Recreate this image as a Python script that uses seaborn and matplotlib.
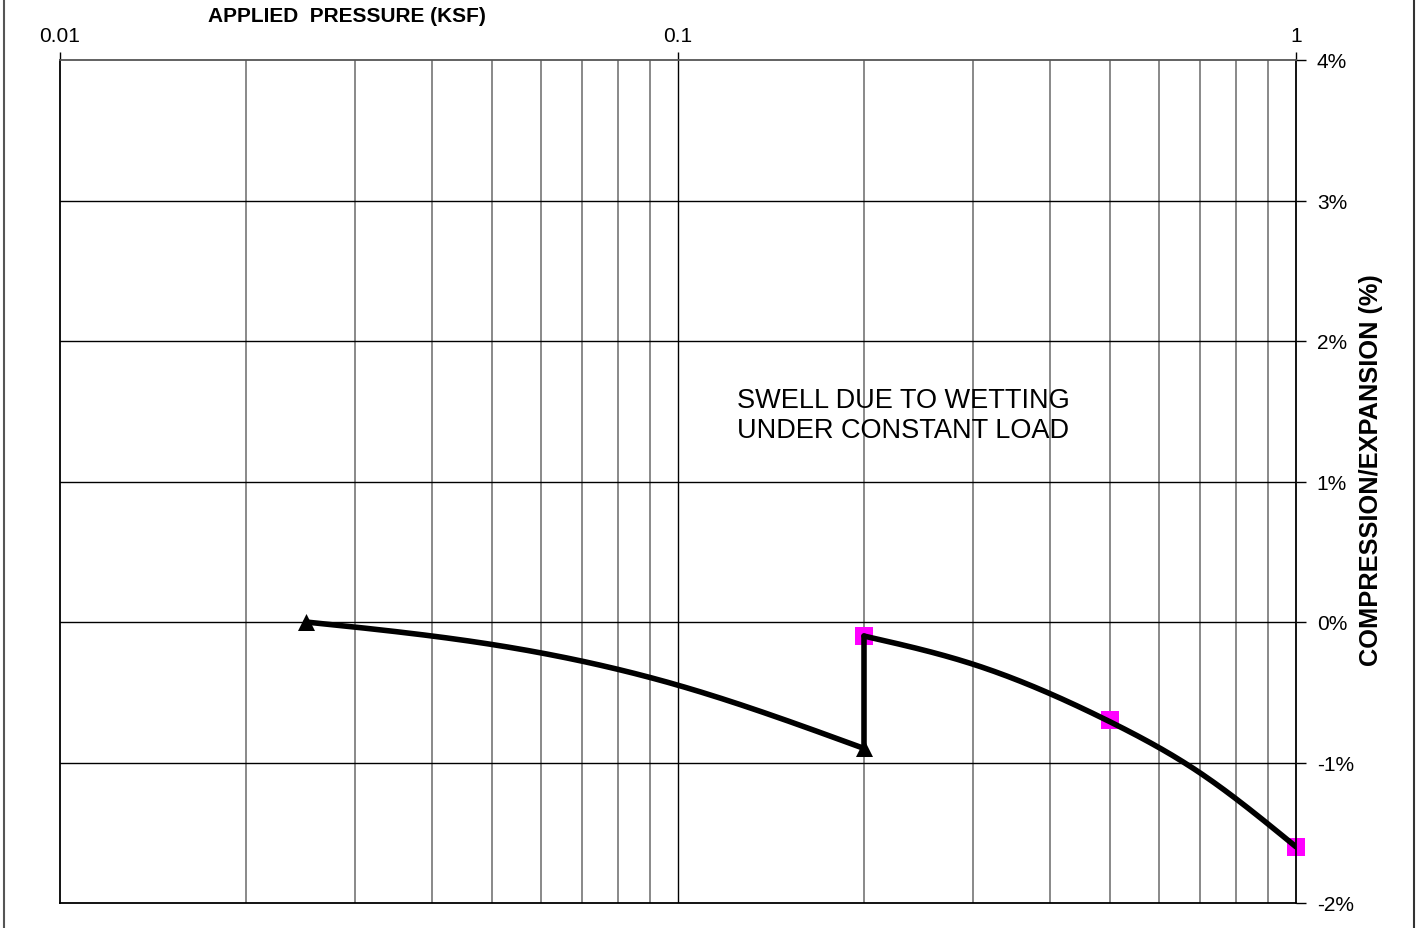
import numpy as np
import pandas as pd
import matplotlib
matplotlib.use("Agg")
import matplotlib.pyplot as plt
import seaborn as sns
from matplotlib.ticker import FixedLocator, NullFormatter, NullLocator

sns.set_theme(style="white")
plt.rcParams["font.family"] = ["Liberation Sans", "DejaVu Sans"]
plt.rcParams["text.color"] = "black"

# Loading curve before wetting (pressure in ksf, strain in %)
load_p = [0.025, 0.05, 0.1, 0.2]
load_s = [0.0, -0.16, -0.45, -0.9]
# Measured points before wetting
dry_p = [0.025, 0.2]
dry_s = [0.0, -0.9]
# Swell on wetting at constant load
wet_jump_p = [0.2, 0.2]
wet_jump_s = [-0.9, -0.1]
# Loading curve after wetting
wet_p = [0.2, 0.3, 0.5, 0.7, 1.0]
wet_s = [-0.1, -0.30, -0.71, -1.075, -1.6]
# Measured points after wetting
sat_p = [0.2, 0.5, 1.0]
sat_s = [-0.1, -0.7, -1.6]

x_ticks = [0.01, 0.1, 1]
x_tick_labels = ["0.01", "0.1", "1"]
y_ticks = [-2, -1, 0, 1, 2, 3, 4]
y_tick_labels = ["-2%", "-1%", "0%", "1%", "2%", "3%", "4%"]


def smooth_path(px, py, n=200):
    """Natural cubic spline through the points in log-x space, for a curved line."""
    x = np.log10(np.asarray(px, float))
    y = np.asarray(py, float)
    k = len(x)
    h = np.diff(x)
    A = np.zeros((k, k))
    b = np.zeros(k)
    A[0, 0] = A[-1, -1] = 1.0
    for i in range(1, k - 1):
        A[i, i - 1] = h[i - 1]
        A[i, i] = 2 * (h[i - 1] + h[i])
        A[i, i + 1] = h[i]
        b[i] = 6 * ((y[i + 1] - y[i]) / h[i] - (y[i] - y[i - 1]) / h[i - 1])
    M = np.linalg.solve(A, b)
    xs = np.linspace(x[0], x[-1], n)
    idx = np.clip(np.searchsorted(x, xs) - 1, 0, k - 2)
    x0, x1 = x[idx], x[idx + 1]
    hh = x1 - x0
    a = (x1 - xs) / hh
    c = (xs - x0) / hh
    ys = (a * y[idx] + c * y[idx + 1]
          + ((a ** 3 - a) * M[idx] + (c ** 3 - c) * M[idx + 1]) * hh ** 2 / 6)
    return pd.DataFrame({"p": 10 ** xs, "s": ys})


fig = plt.figure(figsize=(14.21, 9.29), dpi=100)
ax = fig.add_axes([60 / 1421, 1 - 904 / 929, (1296 - 60) / 1421, (904 - 61) / 929])

ax.set_xscale("log")
ax.set_xlim(0.01, 1)
ax.set_ylim(-2, 4)

# Grid: every 1..9 multiple per decade, every 1%
minor_x = [m * 10.0 ** d for d in (-2, -1) for m in range(2, 10)]
for xv in minor_x:
    ax.axvline(xv, color="#808080", lw=1.3, zorder=1)
ax.axvline(0.1, color="#000000", lw=1.0, zorder=1)
for yv in y_ticks[1:-1]:
    ax.axhline(yv, color="#000000", lw=1.0, zorder=1)

line_kw = dict(color="black", linewidth=4.0, sort=False, estimator=None, legend=False, zorder=3)
d1 = smooth_path(load_p, load_s)
d2 = smooth_path(wet_p, wet_s)
sns.lineplot(data=d1, x="p", y="s", ax=ax, **line_kw)
sns.lineplot(x=wet_jump_p, y=wet_jump_s, ax=ax, **line_kw)
sns.lineplot(data=d2, x="p", y="s", ax=ax, **line_kw)

sns.scatterplot(x=dry_p, y=dry_s, ax=ax, marker="^", s=150, color="black",
                edgecolor="black", linewidth=0, zorder=4, legend=False, clip_on=False)
sns.scatterplot(x=sat_p, y=sat_s, ax=ax, marker="s", s=160, color="#FF00FF",
                edgecolor="#FF00FF", linewidth=0, zorder=2.5, legend=False, clip_on=False)

# Axes on top and right
ax.xaxis.tick_top()
ax.xaxis.set_major_locator(FixedLocator(x_ticks))
ax.set_xticklabels(x_tick_labels)
ax.xaxis.set_minor_locator(NullLocator())
ax.xaxis.set_minor_formatter(NullFormatter())
ax.yaxis.tick_right()
ax.set_yticks(y_ticks)
ax.set_yticklabels(y_tick_labels)
ax.tick_params(axis="x", which="major", direction="out", length=6, width=1.0,
               color="black", labelcolor="black", labelsize=15, pad=5, top=True, bottom=False)
ax.tick_params(axis="y", which="major", direction="out", length=7, width=1.0,
               color="black", labelcolor="black", labelsize=15, pad=8, right=True, left=False)

for side in ["left", "bottom", "right"]:
    ax.spines[side].set_color("black")
    ax.spines[side].set_linewidth(1.3)
ax.spines["top"].set_color("#555555")
ax.spines["top"].set_linewidth(1.3)

ax.set_xlabel("")
ax.set_ylabel("")

fig.text(347 / 1421, 1 - 17 / 929, "APPLIED  PRESSURE (KSF)", ha="center", va="center",
         fontsize=15, fontweight="bold", color="black")
fig.text(1371 / 1421, 1 - 470 / 929, "COMPRESSION/EXPANSION (%)", ha="center", va="center",
         rotation=90, fontsize=18.3, fontweight="bold", color="black")

ax.text(0.1246, 1.47, "SWELL DUE TO WETTING\nUNDER CONSTANT LOAD", ha="left", va="center",
        fontsize=19.5, color="black", linespacing=1.2, zorder=5)

# Outer frame lines
fig.add_artist(plt.Line2D([4 / 1421, 4 / 1421], [0, 1], color="#555555", lw=1.5))
fig.add_artist(plt.Line2D([1414 / 1421, 1414 / 1421], [0, 1], color="#333333", lw=1.5))

fig.savefig("out.png", dpi=100)
